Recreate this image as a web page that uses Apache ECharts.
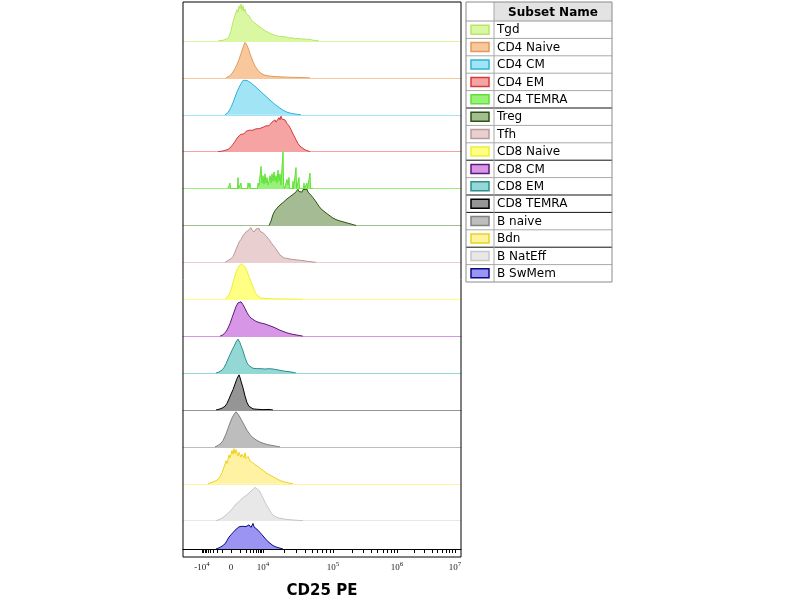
<!doctype html>
<html>
<head>
    <meta charset="utf-8">
    <title>CD25 PE</title>
    <script src="https://cdn.jsdelivr.net/npm/echarts@6/dist/echarts.min.js"></script>
    <style>
        html, body { margin: 0; padding: 0; background: #fff; }
        #main { width: 800px; height: 600px; }
    </style>
</head>
<body>
<div id="main"></div>
<script type="text/javascript">
    // subsets, top to bottom
    var categories = ['Tgd', 'CD4 Naive', 'CD4 CM', 'CD4 EM', 'CD4 TEMRA', 'Treg', 'Tfh',
        'CD8 Naive', 'CD8 CM', 'CD8 EM', 'CD8 TEMRA', 'B naive', 'Bdn', 'B NatEff', 'B SwMem'];

    // x axis is the display (channel) scale of the plot, 0..278
    var tickValues = [19, 48, 80, 150, 214, 272];
    var tickBase = ['-10', '0', '10', '10', '10', '10'];
    var tickExp = ['4', '', '4', '5', '6', '7'];

    // histograms: [channel, count relative to mode]
    var tgd = [[35,0],[40,0.02],[44,0.06],[46,0.12],[48,0.28],[49,0.4],[50,0.52],[51,0.48],[52,0.7],[53,0.65],[54,0.85],[55,0.78],[56,0.95],[57,0.88],[58,1.0],[59,0.82],[60,0.96],[61,0.8],[62,0.86],[63,0.74],[64,0.78],[66,0.68],[67,0.7],[68,0.58],[70,0.56],[71,0.5],[72,0.52],[74,0.44],[76,0.42],[78,0.36],[80,0.33],[82,0.28],[84,0.26],[86,0.22],[88,0.2],[90,0.17],[92,0.16],[95,0.13],[98,0.12],[100,0.1],[103,0.11],[106,0.08],[109,0.09],[112,0.06],[115,0.07],[118,0.05],[121,0.06],[124,0.04],[127,0.05],[130,0.02],[134,0.01],[136,0]];
    var cd4Naive = [[43,0],[46,0.04],[49,0.12],[52,0.25],[54,0.36],[56,0.5],[58,0.66],[60,0.82],[61,0.9],[62,0.96],[63,0.94],[64,0.88],[66,0.74],[68,0.58],[70,0.44],[72,0.32],[74,0.24],[76,0.17],[78,0.12],[80,0.09],[84,0.06],[88,0.045],[92,0.035],[96,0.03],[100,0.025],[105,0.02],[110,0.015],[115,0.012],[120,0.008],[127,0]];
    var cd4Cm = [[42,0],[45,0.06],[48,0.2],[50,0.33],[52,0.48],[54,0.62],[56,0.74],[58,0.84],[60,0.93],[61,0.97],[62,0.95],[64,0.93],[66,0.9],[68,0.86],[70,0.82],[72,0.77],[74,0.72],[76,0.67],[78,0.62],[80,0.57],[83,0.5],[86,0.42],[89,0.35],[92,0.28],[95,0.22],[98,0.16],[101,0.11],[104,0.07],[108,0.04],[112,0.02],[118,0]];
    var cd4Em = [[35,0],[40,0.02],[45,0.06],[48,0.13],[50,0.2],[52,0.28],[53,0.32],[55,0.4],[56,0.42],[58,0.47],[60,0.5],[61,0.48],[63,0.55],[64,0.52],[66,0.58],[68,0.55],[70,0.58],[71,0.56],[73,0.62],[74,0.58],[76,0.62],[78,0.6],[80,0.66],[82,0.64],[83,0.7],[85,0.66],[86,0.7],[88,0.74],[89,0.8],[90,0.76],[92,0.86],[93,0.8],[94,0.82],[96,0.92],[97,0.86],[98,0.96],[99,0.88],[100,0.86],[101,0.9],[102,0.86],[104,0.76],[106,0.7],[108,0.6],[110,0.48],[112,0.38],[113,0.32],[115,0.22],[117,0.15],[119,0.1],[122,0.05],[127,0]];
    var cd4Temra = [[45,0],[46.5,0],[47,0.15],[47.5,0],[54.5,0],[55,0.3],[55.5,0],[57.5,0],[58,0.15],[58.5,0],[64.5,0],[65,0.15],[66,0.05],[67,0.15],[67.5,0],[74.5,0],[75,0.15],[76,0.08],[77.5,0.1],[78,0.6],[79,0.15],[80,0.35],[81,0.12],[82,0.4],[83,0.15],[84,0.3],[85,0.1],[86,0.2],[87,0.35],[88,0.15],[89,0.4],[90,0.2],[91,0.45],[92,0.2],[93,0.35],[94,0.15],[95,0.5],[96,0.2],[97,0.4],[98,0.1],[99.5,0.15],[100,1.0],[100.6,0.1],[101.5,0],[103.5,0],[104,0.25],[105,0.1],[106,0.3],[106.5,0],[109.5,0],[110,0.2],[110.5,0],[112.5,0],[113,0.57],[113.6,0],[115.5,0],[116,0.3],[116.5,0],[120.5,0],[121,0.15],[121.5,0],[123.5,0],[124,0.15],[124.5,0],[126.5,0],[127,0.42],[127.6,0],[130,0]];
    var treg = [[86,0],[88,0.12],[90,0.3],[92,0.4],[94,0.47],[96,0.53],[98,0.58],[100,0.62],[102,0.66],[104,0.72],[106,0.76],[108,0.8],[110,0.85],[112,0.88],[114,0.93],[115,0.98],[116,0.92],[118,0.96],[119,0.9],[120,0.97],[122,0.93],[124,0.98],[125,0.9],[126,0.92],[128,0.82],[130,0.75],[132,0.68],[134,0.6],[136,0.52],[138,0.45],[140,0.4],[142,0.36],[144,0.32],[146,0.28],[148,0.24],[150,0.2],[153,0.16],[156,0.13],[160,0.1],[164,0.07],[168,0.04],[173,0]];
    var tfh = [[42,0],[45,0.05],[48,0.1],[50,0.16],[52,0.28],[54,0.42],[55,0.48],[56,0.55],[58,0.62],[60,0.72],[61,0.7],[62,0.8],[63,0.75],[65,0.86],[66,0.82],[68,0.94],[69,0.88],[70,0.92],[71,0.82],[73,0.9],[74,0.86],[76,0.92],[77,0.84],[78,0.86],[80,0.8],[82,0.78],[83,0.72],[85,0.7],[86,0.62],[88,0.6],[89,0.5],[90,0.52],[92,0.4],[93,0.36],[95,0.28],[97,0.2],[99,0.15],[101,0.12],[104,0.11],[107,0.09],[110,0.08],[113,0.07],[116,0.06],[120,0.05],[124,0.03],[128,0.02],[133,0]];
    var cd8Naive = [[42,0],[44,0.04],[46,0.12],[48,0.25],[50,0.45],[52,0.65],[54,0.8],[56,0.9],[58,0.96],[59,0.97],[60,0.95],[62,0.88],[64,0.76],[66,0.62],[68,0.47],[70,0.33],[72,0.2],[74,0.11],[76,0.06],[78,0.03],[80,0.02],[90,0.01],[100,0.008],[110,0.005],[120,0]];
    var cd8Cm = [[37,0],[40,0.04],[43,0.12],[45,0.22],[47,0.34],[49,0.5],[51,0.65],[53,0.8],[55,0.9],[57,0.95],[58,0.93],[60,0.85],[62,0.75],[64,0.64],[66,0.55],[68,0.49],[70,0.45],[73,0.4],[76,0.37],[79,0.35],[82,0.33],[85,0.3],[88,0.27],[91,0.24],[94,0.2],[97,0.16],[100,0.13],[104,0.09],[108,0.06],[112,0.04],[116,0.02],[120,0]];
    var cd8Em = [[33,0],[36,0.03],[39,0.08],[41,0.15],[43,0.25],[45,0.38],[47,0.5],[49,0.62],[51,0.72],[53,0.84],[55,0.92],[56,0.9],[57,0.82],[58,0.74],[60,0.6],[62,0.42],[64,0.28],[66,0.2],[68,0.15],[70,0.13],[74,0.12],[78,0.12],[82,0.11],[86,0.12],[88,0.13],[90,0.11],[94,0.09],[98,0.07],[102,0.05],[106,0.04],[110,0.02],[113,0]];
    var cd8Temra = [[33,0],[36,0.02],[39,0.05],[42,0.1],[44,0.18],[46,0.3],[48,0.43],[50,0.55],[52,0.7],[54,0.85],[55,0.9],[56,0.95],[57,0.88],[58,0.78],[60,0.6],[62,0.38],[64,0.2],[66,0.1],[68,0.05],[70,0.03],[74,0.02],[80,0.01],[86,0.015],[88,0.02],[90,0]];
    var bNaive = [[32,0],[35,0.04],[38,0.1],[40,0.17],[43,0.35],[45,0.5],[47,0.65],[49,0.78],[51,0.88],[53,0.95],[54,0.93],[56,0.85],[58,0.75],[60,0.65],[62,0.55],[64,0.45],[67,0.33],[70,0.25],[73,0.19],[77,0.13],[81,0.09],[85,0.06],[89,0.04],[93,0.02],[97,0]];
    var bdn = [[25,0],[28,0.03],[31,0.06],[34,0.1],[37,0.18],[39,0.3],[41,0.45],[43,0.62],[44,0.55],[46,0.78],[47,0.7],[49,0.9],[50,0.8],[51,0.95],[52,0.82],[53,0.92],[55,0.75],[56,0.85],[58,0.72],[59,0.8],[61,0.7],[62,0.84],[63,0.68],[65,0.74],[67,0.62],[68,0.66],[70,0.56],[72,0.58],[73,0.5],[75,0.48],[77,0.42],[78,0.44],[80,0.36],[82,0.34],[84,0.28],[86,0.27],[88,0.22],[90,0.2],[92,0.16],[94,0.13],[97,0.09],[100,0.06],[104,0.03],[110,0]];
    var bNatEff = [[33,0],[36,0.03],[39,0.07],[42,0.13],[45,0.2],[48,0.28],[50,0.35],[52,0.42],[54,0.47],[56,0.52],[58,0.57],[60,0.62],[62,0.67],[64,0.7],[66,0.75],[68,0.8],[70,0.84],[72,0.9],[73,0.92],[74,0.88],[76,0.82],[78,0.72],[80,0.62],[82,0.5],[84,0.4],[86,0.31],[88,0.22],[90,0.15],[93,0.1],[96,0.07],[100,0.05],[105,0.03],[110,0.02],[115,0.01],[120,0]];
    var bSwMem = [[33,0],[36,0.04],[39,0.1],[42,0.18],[44,0.3],[46,0.42],[48,0.5],[50,0.58],[52,0.66],[54,0.72],[56,0.78],[57,0.82],[59,0.8],[61,0.81],[63,0.79],[65,0.78],[66,0.85],[68,0.76],[70,0.9],[71,0.78],[73,0.74],[75,0.66],[77,0.58],[79,0.5],[81,0.42],[83,0.34],[85,0.26],[87,0.19],[90,0.12],[93,0.07],[96,0.04],[100,0]];

    var histograms = [tgd, cd4Naive, cd4Cm, cd4Em, cd4Temra, treg, tfh,
        cd8Naive, cd8Cm, cd8Em, cd8Temra, bNaive, bdn, bNatEff, bSwMem];

    var fillColors = ['#daf7a2', '#f8c79b', '#a0e4f6', '#f6a3a3', '#98f27a', '#a5bb93', '#e9cfcf',
        '#ffff84', '#d796e6', '#94d8d6', '#959595', '#bdbdbd', '#fff2a3', '#e8e8e8', '#9c94f2'];
    var lineColors = ['#b9e56a', '#e39a5c', '#2fb3d3', '#d23c3c', '#5fe235', '#2b560f', '#bb9a9a',
        '#eeee3a', '#5e1a78', '#2d8e8c', '#000000', '#808080', '#eed21c', '#c6c6c6', '#0c0c88'];
    // darker separators in the subset table (row index below which it is drawn)
    var blackRules = [4, 7, 9, 10, 12];

    var plotLeft = 183, plotWidth = 278, plotTop = 4, rowStep = 36.9, rowHeight = 37;

    // minor ticks, log spaced inside each decade
    var minorTicks = [];
    for (var m = 2; m <= 9; m++) {
        var f = Math.log10(m);
        minorTicks.push(48 - (48 - 19) * f);
        for (var d = 1; d < tickValues.length - 1; d++) {
            minorTicks.push(tickValues[d] + (tickValues[d + 1] - tickValues[d]) * f);
        }
    }
    var allTicks = tickValues.concat(minorTicks).sort(function (a, b) { return a - b; });

    var grids = [], xAxes = [], yAxes = [], series = [];
    var last = categories.length - 1;
    for (var i = 0; i < categories.length; i++) {
        grids.push({
            left: plotLeft, width: plotWidth,
            top: plotTop + i * rowStep, height: rowHeight
        });
        xAxes.push({
            gridIndex: i,
            type: 'value',
            min: 0, max: 278,
            axisLine: { show: true, lineStyle: { color: i === last ? '#000' : fillColors[i], width: 1 } },
            axisTick: i === last ? {
                show: true, customValues: allTicks, length: 4, inside: false,
                lineStyle: { color: '#000', width: 1 }
            } : { show: false },
            axisLabel: i === last ? {
                show: true,
                customValues: tickValues,
                margin: 12,
                formatter: function (v) {
                    var k = 0;
                    for (var j = 0; j < tickValues.length; j++) {
                        if (Math.abs(tickValues[j] - v) < Math.abs(tickValues[k] - v)) k = j;
                    }
                    if (!tickExp[k]) return '{b|' + tickBase[k] + '}';
                    return '{b|' + tickBase[k] + '}{e|' + tickExp[k] + '}';
                },
                rich: {
                    b: { fontFamily: 'Liberation Serif', fontSize: 9, color: '#222', lineHeight: 11, verticalAlign: 'bottom' },
                    e: { fontFamily: 'Liberation Serif', fontSize: 7, color: '#222', lineHeight: 11, verticalAlign: 'top' }
                }
            } : { show: false },
            splitLine: { show: false },
            name: i === last ? 'CD25 PE' : '',
            nameLocation: 'middle',
            nameGap: 35,
            nameTextStyle: { fontFamily: 'DejaVu Sans', fontSize: 15, fontWeight: 'bold', color: '#000' }
        });
        yAxes.push({
            gridIndex: i, type: 'value', min: 0, max: 1, show: false
        });
        series.push({
            name: categories[i],
            type: 'line',
            xAxisIndex: i, yAxisIndex: i,
            data: histograms[i],
            symbol: 'none',
            smooth: false,
            lineStyle: { color: lineColors[i], width: 1 },
            areaStyle: { color: fillColors[i], opacity: 1 },
            silent: true
        });
    }

    // subset table on the right
    var tblX = 466, tblW = 146, tblY = 2, colX = 494, headH = 19, rowH = 17.4;
    var tblH = headH + rowH * categories.length;
    var graphics = [
        { type: 'rect', shape: { x: plotLeft, y: 2, width: plotWidth, height: 555 },
          style: { fill: 'none', stroke: '#000', lineWidth: 1 }, z: 10 },
        { type: 'rect', shape: { x: colX, y: tblY, width: tblX + tblW - colX, height: headH },
          style: { fill: '#e3e3e3' } },
        { type: 'text', x: (colX + tblX + tblW) / 2, y: tblY + headH / 2 + 1,
          style: { text: 'Subset Name', font: 'bold 12px "DejaVu Sans"', fill: '#000', align: 'center', verticalAlign: 'middle' } },
        { type: 'line', shape: { x1: tblX, y1: tblY + headH, x2: tblX + tblW, y2: tblY + headH },
          style: { stroke: '#9a9a9a', lineWidth: 1 } }
    ];
    for (var r = 0; r < categories.length; r++) {
        var y0 = tblY + headH + r * rowH;
        graphics.push({ type: 'rect', shape: { x: 471, y: y0 + rowH / 2 - 4.5, width: 18, height: 9 },
            style: { fill: fillColors[r], stroke: lineColors[r], lineWidth: 1.5 } });
        graphics.push({ type: 'text', x: 497, y: y0 + rowH / 2 + 0.5,
            style: { text: categories[r], font: '12px "DejaVu Sans"', fill: '#000', verticalAlign: 'middle' } });
        if (r < categories.length - 1) {
            graphics.push({ type: 'line', shape: { x1: tblX, y1: y0 + rowH, x2: tblX + tblW, y2: y0 + rowH },
                style: { stroke: blackRules.indexOf(r) >= 0 ? '#111' : '#a8a8a8', lineWidth: 1 } });
        }
    }
    graphics.push({ type: 'line', shape: { x1: colX, y1: tblY, x2: colX, y2: tblY + tblH },
        style: { stroke: '#a8a8a8', lineWidth: 1 } });
    graphics.push({ type: 'rect', shape: { x: tblX, y: tblY, width: tblW, height: tblH },
        style: { fill: 'none', stroke: '#8a8a8a', lineWidth: 1 } });

    var myChart = echarts.init(document.getElementById('main'));
    myChart.setOption({
        animation: false,
        backgroundColor: '#fff',
        grid: grids,
        xAxis: xAxes,
        yAxis: yAxes,
        series: series,
        graphic: graphics
    });
</script>
</html>
